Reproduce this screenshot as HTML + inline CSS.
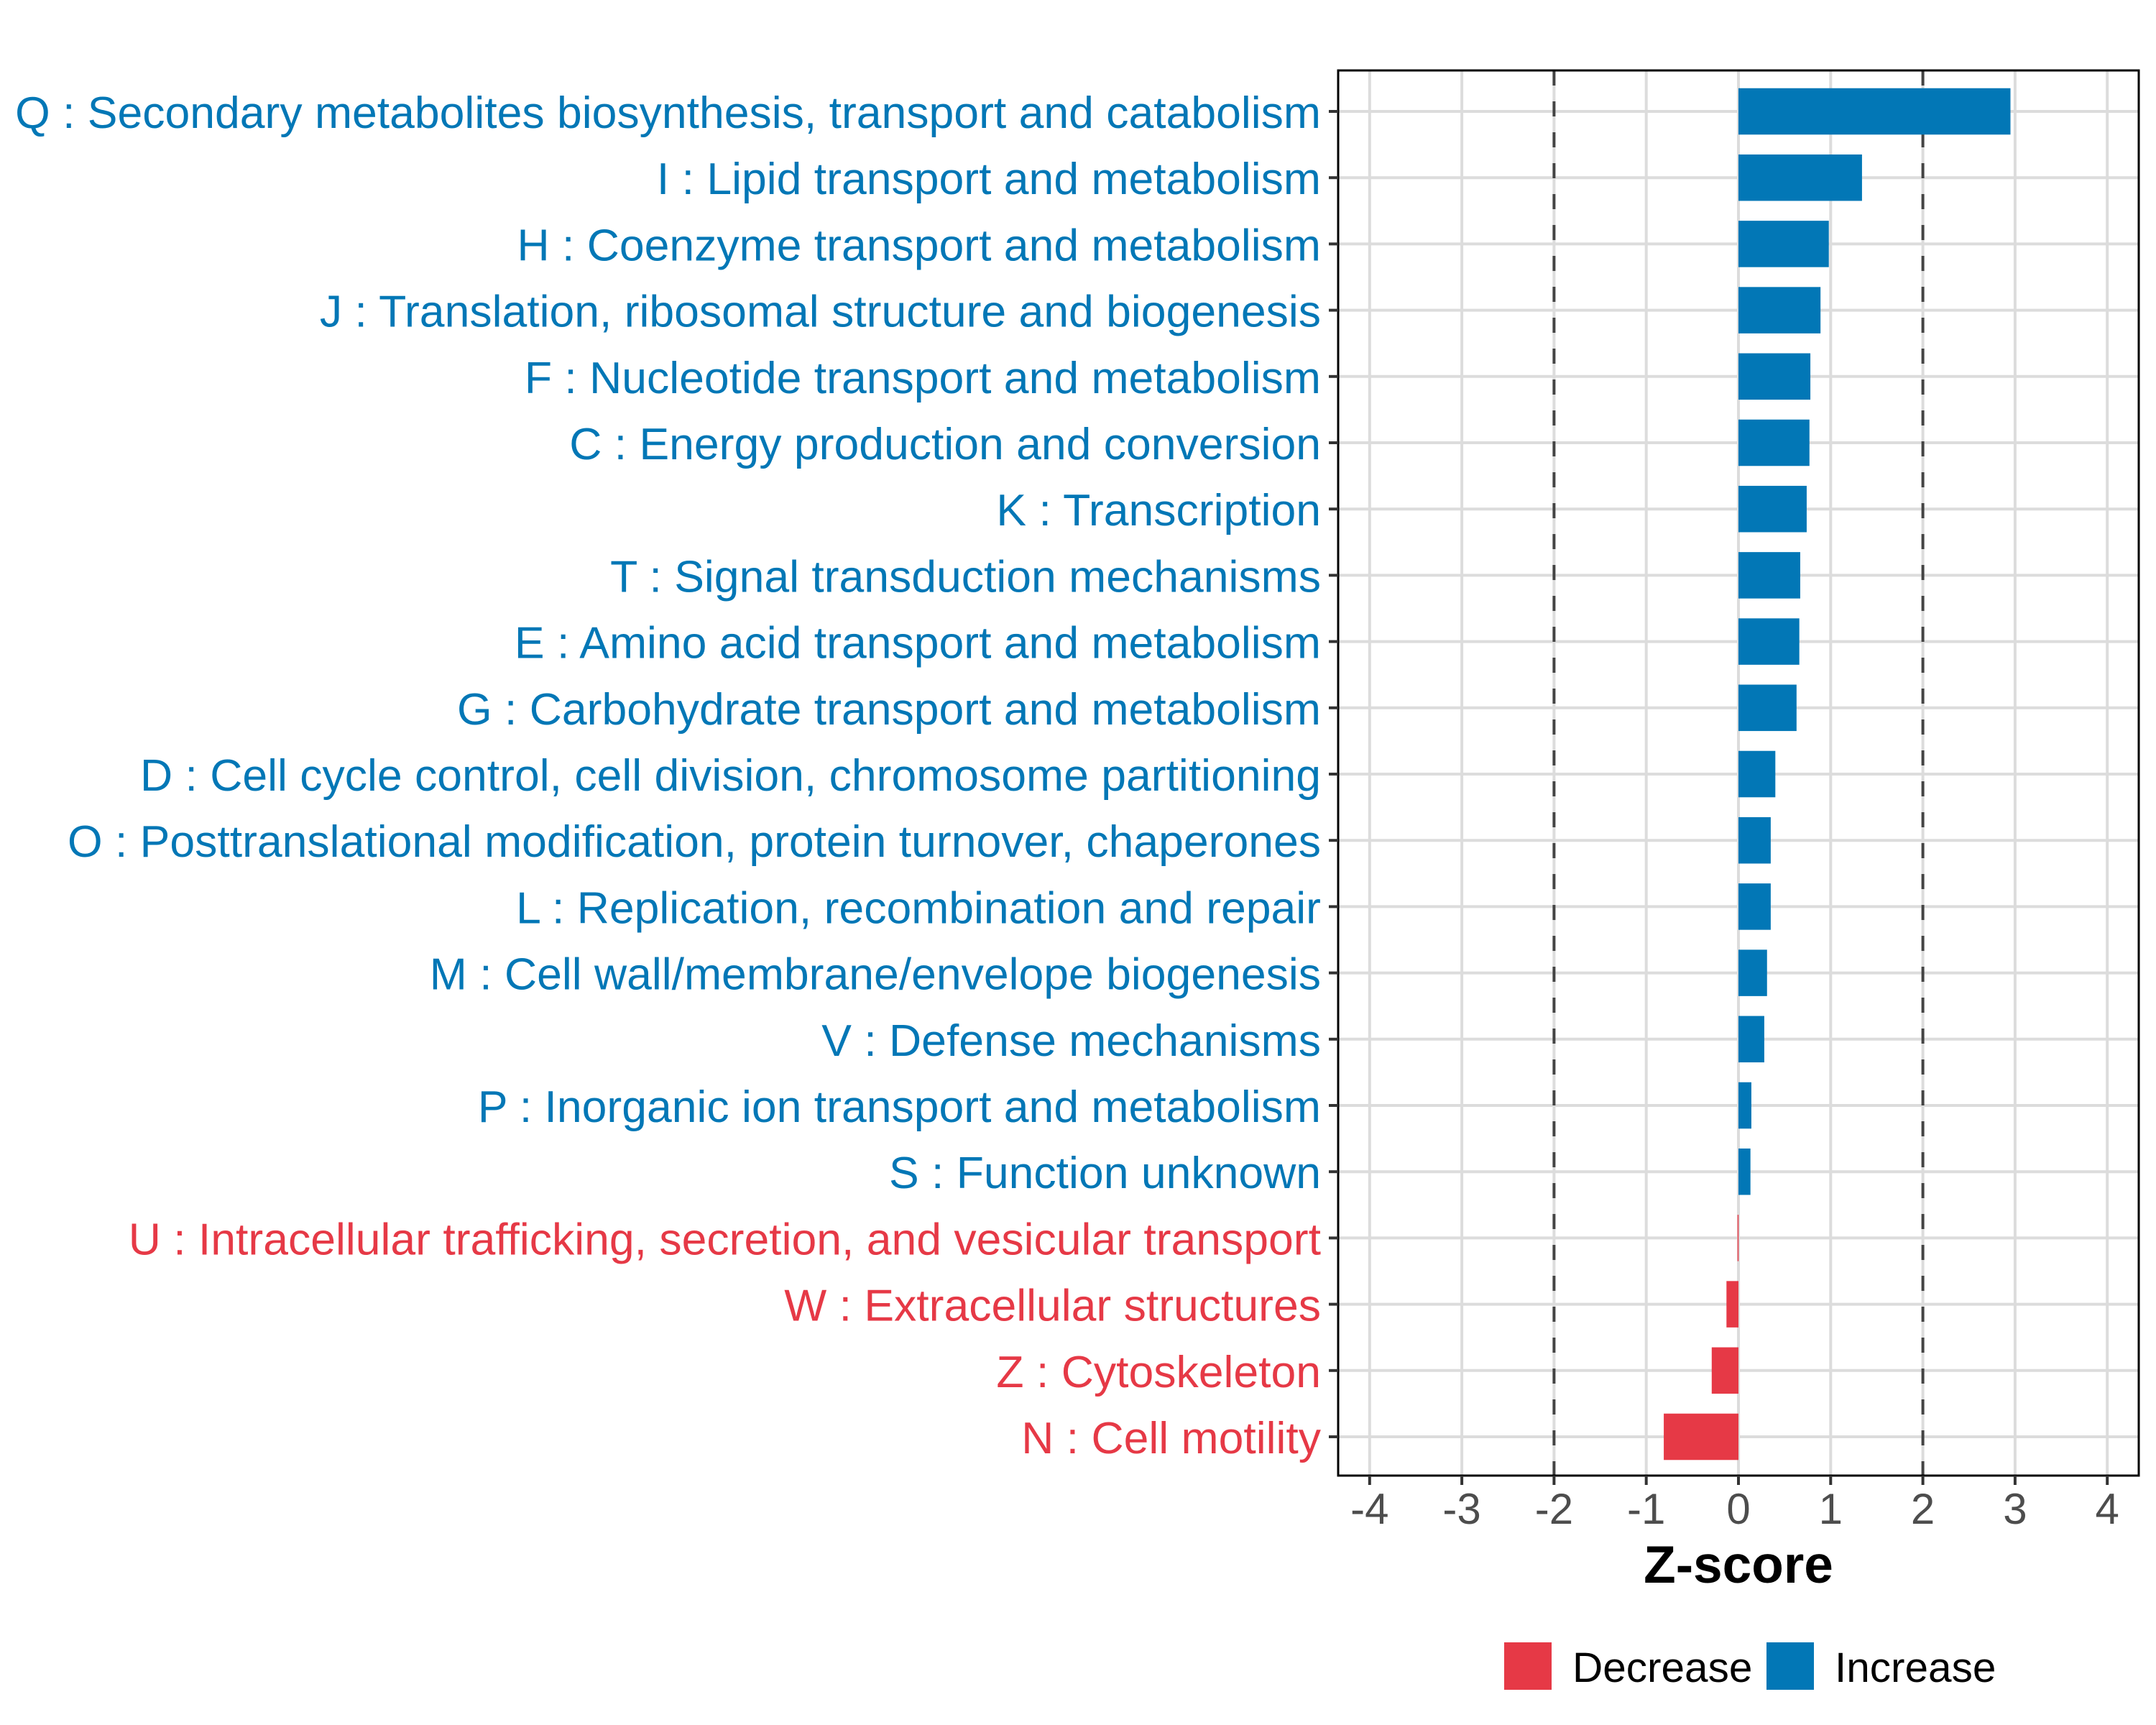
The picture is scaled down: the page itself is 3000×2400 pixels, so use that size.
<!DOCTYPE html>
<html><head><meta charset="utf-8"><style>
html,body{margin:0;padding:0;background:#fff;}
svg{display:block;font-family:"Liberation Sans",Arial,sans-serif;}
</style></head><body>
<svg id="chart" width="3000" height="2400" viewBox="0 0 3000 2400" xmlns="http://www.w3.org/2000/svg">
<rect x="0" y="0" width="3000" height="2400" fill="#fff"/>
<g id="grid"></g>
<g id="refs"></g>
<g id="bars"></g>
<rect x="1862" y="98" width="1114" height="1955" fill="none" stroke="#000" stroke-width="3"/>
<g id="yaxis"></g>
<g id="xaxis"></g>
<text x="2419" y="2202" text-anchor="middle" font-size="73" font-weight="bold" fill="#000">Z-score</text>
<g>
 <g>
  <rect x="2093" y="2285" width="66" height="66" fill="#E63946"/>
  <text x="2188" y="2340" font-size="58.5" fill="#000">Decrease</text>
 </g>
 <g>
  <rect x="2458" y="2285" width="66" height="66" fill="#0277B6"/>
  <text x="2553" y="2340" font-size="58.5" fill="#000">Increase</text>
 </g>
</g>
</svg>
<script>
const categories = [
"Q : Secondary metabolites biosynthesis, transport and catabolism",
"I : Lipid transport and metabolism",
"H : Coenzyme transport and metabolism",
"J : Translation, ribosomal structure and biogenesis",
"F : Nucleotide transport and metabolism",
"C : Energy production and conversion",
"K : Transcription",
"T : Signal transduction mechanisms",
"E : Amino acid transport and metabolism",
"G : Carbohydrate transport and metabolism",
"D : Cell cycle control, cell division, chromosome partitioning",
"O : Posttranslational modification, protein turnover, chaperones",
"L : Replication, recombination and repair",
"M : Cell wall/membrane/envelope biogenesis",
"V : Defense mechanisms",
"P : Inorganic ion transport and metabolism",
"S : Function unknown",
"U : Intracellular trafficking, secretion, and vesicular transport",
"W : Extracellular structures",
"Z : Cytoskeleton",
"N : Cell motility"];
const zscores = [2.95,1.34,0.98,0.89,0.78,0.77,0.74,0.67,0.66,0.63,0.40,0.35,0.35,0.31,0.28,0.14,0.13,-0.01,-0.13,-0.29,-0.81];
const xTicks = [-4,-3,-2,-1,0,1,2,3,4];
const thresholds = [-2,2];

const NS="http://www.w3.org/2000/svg";
const BLUE="#0277B6", RED="#E63946";
const px0=1862, px1=2976, py0=98, py1=2053;
const zero=2419, unit=128.3;
const xs = v => zero + v*unit;
const yTop=155, step=92.2;
const ys = i => yTop + i*step;
function mk(tag, attrs, parent){const e=document.createElementNS(NS,tag);for(const k in attrs)e.setAttribute(k,attrs[k]);parent.appendChild(e);return e;}
const grid=document.getElementById('grid'), bars=document.getElementById('bars'),
 yax=document.getElementById('yaxis'), xax=document.getElementById('xaxis'), refs=document.getElementById('refs');

xTicks.forEach(t=>{
  const x=xs(t);
  const g=mk('line',{x1:x,x2:x,y1:py0,y2:py1,stroke:'#dcdcdc','stroke-width':4},grid);
  
  
  const tk=mk('line',{x1:x,x2:x,y1:py1,y2:py1+13,stroke:'#333','stroke-width':4},xax);
  
  
  const tl=mk('text',{x:x,y:2120,'text-anchor':'middle','font-size':60,fill:'#4d4d4d'},xax);
  tl.textContent=String(t);
  
  
});
categories.forEach((c,i)=>{
  const y=ys(i);
  const g=mk('line',{x1:px0,x2:px1,y1:y,y2:y,stroke:'#dcdcdc','stroke-width':4},grid);
  
  
  const tk=mk('line',{x1:px0-13,x2:px0,y1:y,y2:y,stroke:'#333','stroke-width':4},yax);
  
  
  const v=zscores[i];
  const col=v>=0?BLUE:RED;
  const tl=mk('text',{x:1838,y:y+23,'text-anchor':'end','font-size':62.5,fill:col},yax);
  tl.textContent=c;
  
  
  const h=step*0.7;
  const x0=Math.min(xs(0),xs(v)), w=Math.max(Math.abs(xs(v)-xs(0)),1.5);
  const b=mk('rect',{x:x0,y:y-h/2,width:w,height:h,fill:col},bars);
  
  
});
thresholds.forEach(t=>{
  const l=mk('line',{x1:xs(t),x2:xs(t),y1:py0,y2:py1,stroke:'#444','stroke-width':4,'stroke-dasharray':'21 22'},refs);
  
  
});
</script>
</body></html>
